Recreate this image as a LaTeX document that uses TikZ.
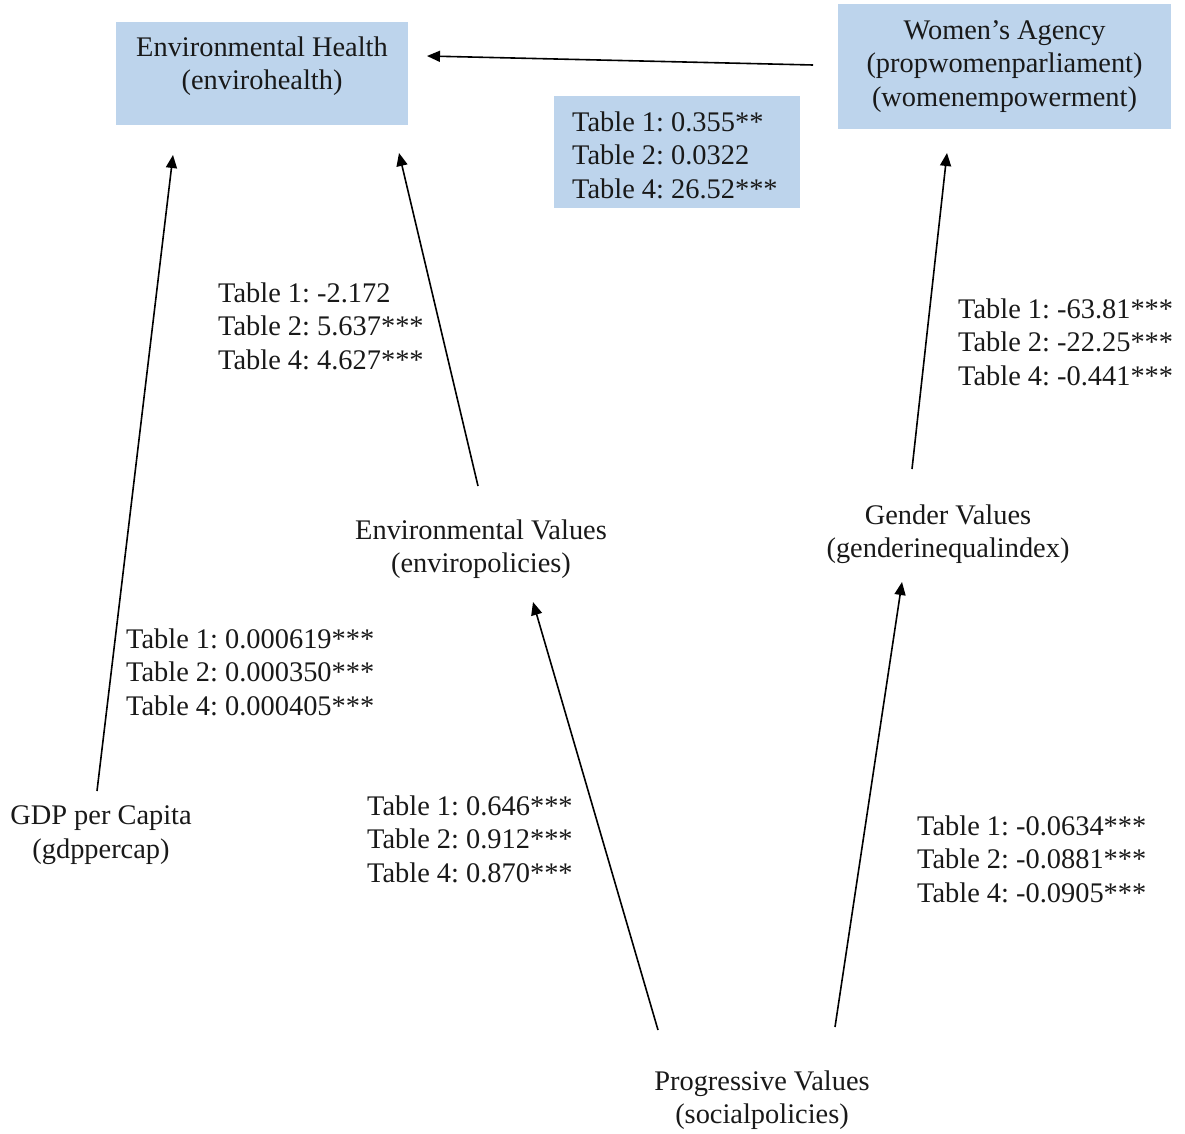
\documentclass[tikz,border=0pt]{standalone}
\usepackage{fontspec}
\setmainfont{Liberation Serif}
\usetikzlibrary{arrows.meta}
\definecolor{boxblue}{RGB}{189,212,236}
\frenchspacing
\tikzset{
  txt/.style={inner sep=0pt, font=\frenchspacing\fontsize{28.4}{33.5}\selectfont, text=black!90},
  ctxt/.style={txt, align=center},
  ltxt/.style={txt, align=left, anchor=west},
  bluebox/.style={fill=boxblue, draw=none, inner sep=0pt},
  conn/.style={line width=1.6pt, -{Triangle[length=13pt,width=11pt]}},
}
\begin{document}
\begin{tikzpicture}[x=1pt,y=-1pt]
\useasboundingbox (0,0) rectangle (1185,1134);
% boxes
\node[bluebox, minimum width=292, minimum height=103] (ehbox) at (262,73.5) {};
\node[ctxt] (eh) at (262,66) {Environmental Health\\(envirohealth)};
\node[bluebox, ctxt, minimum width=333, minimum height=125] (wa) at (1004.5,66.5) {Women’s Agency\\(propwomenparliament)\\(womenempowerment)};
\node[bluebox, minimum width=246, minimum height=112] (coefbox) at (677,152) {};
\node[ltxt] (coef) at (572,155) {Table 1: 0.355**\\Table 2: 0.0322\\Table 4: 26.52***};
% plain nodes
\node[ctxt] (ev) at (481,549) {Environmental Values\\(enviropolicies)};
\node[ctxt] (gv) at (948,534) {Gender Values\\(genderinequalindex)};
\node[ctxt] (gdp) at (101,835) {GDP per Capita\\(gdppercap)};
\node[ctxt] (pv) at (762,1100) {Progressive Values\\(socialpolicies)};
% labels
\node[ltxt] (l1) at (218,326) {Table 1: -2.172\\Table 2: 5.637***\\Table 4: 4.627***};
\node[ltxt] (l2) at (958,342) {Table 1: -63.81***\\Table 2: -22.25***\\Table 4: -0.441***};
\node[ltxt] (l3) at (126,672) {Table 1: 0.000619***\\Table 2: 0.000350***\\Table 4: 0.000405***};
\node[ltxt] (l4) at (367,839) {Table 1: 0.646***\\Table 2: 0.912***\\Table 4: 0.870***};
\node[ltxt] (l5) at (917,859) {Table 1: -0.0634***\\Table 2: -0.0881***\\Table 4: -0.0905***};
% connector end points
\coordinate (wa-out) at (813,65);
\coordinate (eh-in-r) at (427,56);
\coordinate (gdp-out) at (97,791);
\coordinate (eh-in-l) at (173,155);
\coordinate (ev-out) at (478,486);
\coordinate (eh-in-b) at (399,153);
\coordinate (gv-out) at (912,469);
\coordinate (wa-in) at (947,153);
\coordinate (pv-out-l) at (658,1030);
\coordinate (ev-in) at (533,602);
\coordinate (pv-out-r) at (835,1027);
\coordinate (gv-in) at (902,582);
% connectors
\draw[conn] (wa-out) -- (eh-in-r);
\draw[conn] (gdp-out) -- (eh-in-l);
\draw[conn] (ev-out) -- (eh-in-b);
\draw[conn] (gv-out) -- (wa-in);
\draw[conn] (pv-out-l) -- (ev-in);
\draw[conn] (pv-out-r) -- (gv-in);
\end{tikzpicture}
\end{document}
